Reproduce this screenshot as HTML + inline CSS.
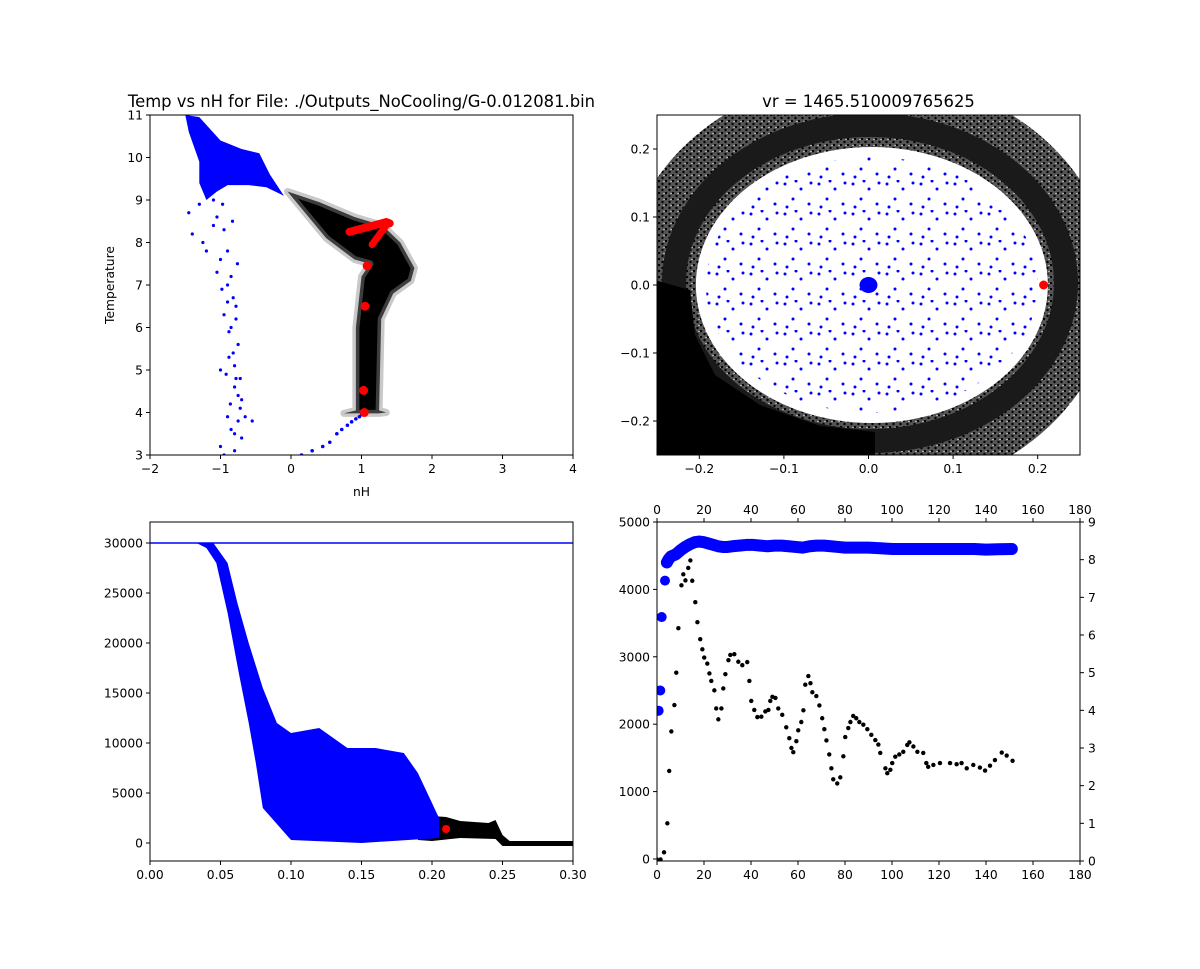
<!DOCTYPE html>
<html><head><meta charset="utf-8"><style>
body{margin:0;background:#fff}
svg{display:block;font-family:"DejaVu Sans","Liberation Sans",sans-serif}
</style></head><body>
<svg id="fig" width="1200" height="969" viewBox="0 0 1200 969" xmlns="http://www.w3.org/2000/svg">
<defs>
<pattern id="bluedots" width="34" height="30" patternUnits="userSpaceOnUse">
<circle cx="3" cy="4" r="1.5" fill="#00f"/><circle cx="19" cy="9" r="1.5" fill="#00f"/><circle cx="11" cy="19" r="1.5" fill="#00f"/><circle cx="27" cy="24" r="1.5" fill="#00f"/><circle cx="29" cy="3" r="1.5" fill="#00f"/><circle cx="5" cy="27" r="1.5" fill="#00f"/><circle cx="14" cy="1" r="1.5" fill="#00f"/></pattern>
<pattern id="blackdots" width="7" height="6" patternUnits="userSpaceOnUse">
<rect width="7" height="6" fill="#555"/><circle cx="1" cy="1" r="1.2" fill="#000"/><circle cx="4.5" cy="4" r="1.2" fill="#000"/><circle cx="6" cy="1.5" r="0.6" fill="#fff"/></pattern>
<clipPath id="c1"><rect x="150" y="115" width="423" height="340"/></clipPath>
<clipPath id="c2"><rect x="657" y="115" width="423" height="340"/></clipPath>
<clipPath id="c3"><rect x="150" y="522" width="423" height="339"/></clipPath>
<clipPath id="c4"><rect x="657" y="522" width="423" height="339"/></clipPath>
</defs>
<g id="g1" clip-path="url(#c1)"></g>
<g id="g2" clip-path="url(#c2)"></g>
<g id="g3" clip-path="url(#c3)"></g>
<g id="g4" clip-path="url(#c4)"></g>
<g id="axes"></g>
</svg>
<script>
// ---------- data ----------
const p1BlueTailX=[-1.45,-1.4,-1.3,-1.25,-1.2,-1.1,-1.05,-1.0,-0.98,-0.95,-0.9,-0.88,-0.85,-0.82,-0.8,-0.8,-0.78,-0.75,-0.72,-0.7,-0.9,-0.85,-0.75,-0.7,-0.65,-1.0,-0.95,-0.8,-0.72,-0.55,-0.88,-0.78,-1.05,-0.95,-0.9,-0.85,-0.82,-0.78,-0.9,-1.0,-0.75,-0.92,-0.86,-0.8,-1.1,-0.97,-0.83,-0.76];
const p1BlueTailY=[8.7,8.2,8.9,8.0,7.8,8.4,7.3,7.6,6.9,6.3,6.6,5.9,6.0,5.4,5.1,4.6,4.8,4.4,4.1,4.3,3.9,3.6,3.8,3.4,3.9,3.2,3.0,3.1,4.8,3.8,5.3,6.2,8.6,8.3,7.8,7.2,6.7,6.5,7.0,5.0,5.6,4.9,4.2,3.5,9.0,8.9,8.5,7.5];
const p1ArcX=[0.0,0.15,0.3,0.45,0.55,0.65,0.72,0.8,0.86,0.92,0.97,1.0];
const p1ArcY=[2.95,3.0,3.1,3.2,3.3,3.5,3.6,3.7,3.78,3.85,3.9,3.95];
const p1RedX=[1.08,1.05,1.03,1.04];
const p1RedY=[7.45,6.5,4.52,4.0];
const p2RedX=[0.207]; const p2RedY=[0.0];
const p3RedX=[0.21]; const p3RedY=[1400];
const p4BlackX=[0,1.5,3,4.4,5.2,6.1,7.4,8.2,9.1,10.4,11.2,12.1,13.3,14.2,15,16.3,17.2,18.4,19.3,20.1,21.4,22.3,23.1,24.4,25.2,26.1,27.4,28.2,29.1,30.4,31.2,32.9,34.6,36.3,38.4,39.3,40.1,41.4,42.7,44.4,46.1,47.4,48.2,49.1,50.4,51.6,53.3,55,56.3,57.2,58,59.3,60.1,61.4,62.3,63.1,64.4,65.3,66.1,67.8,69.1,70.3,71.2,72.1,73.3,74.2,75,76.7,78,79.3,80.1,81.4,82.3,83.5,84.8,86.1,87.8,89.5,91.2,92.9,94.2,95,97.2,98,99.3,100.1,101.4,103.1,104.8,106.5,107.4,109.1,110.8,113.3,114.6,115.4,117.6,120.4,124.7,127.5,129.6,131.8,134.6,137.4,139.6,141.7,143.8,146.7,148.8,151.3];
const p4BlackY=[0.04,0.04,0.23,1.0,2.39,3.44,4.14,5.0,6.18,7.32,7.61,7.45,7.78,7.98,7.44,6.87,6.34,5.89,5.62,5.4,5.24,4.98,4.78,4.53,4.05,3.76,4.05,4.58,4.96,5.33,5.47,5.49,5.29,5.2,5.28,4.78,4.25,4.01,3.82,3.83,3.97,4.01,4.25,4.36,4.33,4.05,3.88,3.55,3.26,3.0,2.89,3.18,3.47,3.69,4.0,4.68,4.91,4.72,4.48,4.38,4.13,3.79,3.5,3.2,2.83,2.46,2.17,2.06,2.22,2.78,3.29,3.53,3.69,3.85,3.79,3.69,3.62,3.5,3.35,3.21,3.09,2.87,2.46,2.33,2.42,2.6,2.77,2.83,2.9,3.08,3.15,3.04,2.9,2.87,2.6,2.5,2.55,2.6,2.6,2.57,2.6,2.46,2.55,2.48,2.4,2.53,2.68,2.88,2.8,2.66];
const p4BlueX=[0.7,1.4,2,3.4,4.2,5,6,8,10,12,14,16,18,20,22,24,26,28,30,32,35,38,41,44,47,50,53,56,59,62,65,68,71,74,77,80,83,86,90,95,100,105,110,115,120,125,130,135,140,145,151];
const p4BlueY=[2200,2500,3590,4130,4400,4450,4490,4520,4580,4630,4670,4700,4710,4700,4680,4660,4640,4630,4630,4640,4650,4660,4660,4650,4640,4650,4650,4640,4630,4620,4640,4650,4650,4640,4630,4620,4620,4620,4620,4610,4600,4600,4600,4600,4600,4600,4600,4600,4590,4595,4600];
const t1X=[-2,-1,0,1,2,3,4], t1Y=[3,4,5,6,7,8,9,10,11];
const t2X=[-0.2,-0.1,0.0,0.1,0.2], t2Y=[-0.2,-0.1,0.0,0.1,0.2];
const t3X=[0.00,0.05,0.10,0.15,0.20,0.25,0.30], t3Y=[0,5000,10000,15000,20000,25000,30000];
const t4X=[0,20,40,60,80,100,120,140,160,180], t4YL=[0,1000,2000,3000,4000,5000], t4YR=[0,1,2,3,4,5,6,7,8,9];

// ---------- helpers ----------
const NS="http://www.w3.org/2000/svg";
function mk(parent,tag,attrs,text){const e=document.createElementNS(NS,tag);for(const k in attrs)e.setAttribute(k,attrs[k]);if(text!==undefined)e.textContent=text;parent.appendChild(e);return e;}
function lin(d0,d1,p0,p1){return v=>p0+(v-d0)*(p1-p0)/(d1-d0);}
const x1=lin(-2,4,150,573), y1=lin(3,11,455,115);
const x2=lin(-0.25,0.25,657,1080), y2=lin(-0.25,0.25,455,115);
const x3=lin(0,0.3,150,573), y3=lin(0,30000,843,543);
const x4=lin(0,180,657,1080), y4L=lin(0,5000,859,522), y4R=lin(0,9,861,522);
const g1=document.getElementById('g1'),g2=document.getElementById('g2'),g3=document.getElementById('g3'),g4=document.getElementById('g4'),ax=document.getElementById('axes');
function poly(g,fx,fy,pts){return pts.map(p=>fx(p[0]).toFixed(1)+','+fy(p[1]).toFixed(1)).join(' ');}

// ---------- panel 1 ----------
let e;
e=mk(g1,'polygon',{points:poly(g1,x1,y1,[[-1.5,11.0],[-1.3,10.95],[-1.0,10.4],[-0.7,10.2],[-0.45,10.1],[-0.3,9.6],[-0.1,9.1],[-0.35,9.3],[-0.6,9.35],[-0.9,9.35],[-1.05,9.2],[-1.2,9.0],[-1.3,9.4],[-1.3,9.9],[-1.45,10.6]]),fill:'#00f'});

e=mk(g1,'polygon',{points:poly(g1,x1,y1,[[-0.05,9.2],[0.4,8.95],[0.9,8.6],[1.3,8.4],[1.55,8.0],[1.75,7.4],[1.7,7.1],[1.45,6.8],[1.28,6.2],[1.25,4.05],[1.35,4.0],[1.25,3.98],[0.75,3.98],[0.92,4.05],[0.92,6.0],[1.0,7.2],[1.12,7.5],[0.9,7.6],[0.5,8.1],[0.2,8.7]]),fill:'#000',stroke:'#888','stroke-width':7,'stroke-opacity':0.45,'stroke-linejoin':'round'});

p1BlueTailX.forEach((v,i)=>{const c=mk(g1,'circle',{cx:x1(v),cy:y1(p1BlueTailY[i]),r:1.6,fill:'#00f'});
});
p1ArcX.forEach((v,i)=>{const c=mk(g1,'circle',{cx:x1(v),cy:y1(p1ArcY[i]),r:1.8,fill:'#00f'});
});
e=mk(g1,'polyline',{points:poly(g1,x1,y1,[[0.83,8.25],[1.35,8.48],[1.4,8.45]]),fill:'none',stroke:'#f00','stroke-width':8,'stroke-linecap':'round'});

e=mk(g1,'polyline',{points:poly(g1,x1,y1,[[1.15,7.95],[1.35,8.4]]),fill:'none',stroke:'#f00','stroke-width':7,'stroke-linecap':'round'});

p1RedX.forEach((v,i)=>{const c=mk(g1,'circle',{cx:x1(v),cy:y1(p1RedY[i]),r:4.5,fill:'#f00'});
});

// ---------- panel 2 ----------
e=mk(g2,'ellipse',{cx:868,cy:285,rx:245,ry:210,fill:'url(#blackdots)'});

e=mk(g2,'ellipse',{cx:870,cy:283,rx:196,ry:158,fill:'none',stroke:'#1a1a1a','stroke-width':24});

e=mk(g2,'polygon',{points:'655,280 655,457 875,457 875,432 820,426 760,405 715,375 695,335 690,290',fill:'#000'});

e=mk(g2,'ellipse',{cx:x2(0.004),cy:y2(0.0),rx:176,ry:138,fill:'#fff'});

e=mk(g2,'ellipse',{cx:x2(0.004),cy:y2(0.0),rx:166,ry:128,fill:'url(#bluedots)'});

e=mk(g2,'ellipse',{cx:x2(0.0),cy:y2(0.0),rx:9,ry:8,fill:'#00f'});

p2RedX.forEach((v,i)=>{const c=mk(g2,'circle',{cx:x2(v),cy:y2(p2RedY[i]),r:4.5,fill:'#f00'});
});

// ---------- panel 3 ----------
e=mk(g3,'polygon',{points:poly(g3,x3,y3,[[0.19,2800],[0.21,2600],[0.22,2200],[0.24,2000],[0.245,2300],[0.25,800],[0.255,200],[0.3,200],[0.3,-300],[0.25,-300],[0.245,400],[0.22,500],[0.2,200],[0.19,300]]),fill:'#000'});

e=mk(g3,'polygon',{points:poly(g3,x3,y3,[[0.033,30000],[0.045,30000],[0.055,28000],[0.062,24000],[0.07,20000],[0.08,15500],[0.09,12000],[0.1,11000],[0.12,11500],[0.14,9500],[0.16,9500],[0.18,9000],[0.19,7000],[0.2,4000],[0.205,2500],[0.205,500],[0.15,0],[0.1,300],[0.08,3500],[0.075,8000],[0.07,12000],[0.063,17000],[0.055,23000],[0.047,28000],[0.04,29500]]),fill:'#00f'});

e=mk(g3,'line',{x1:150,x2:573,y1:y3(30000),y2:y3(30000),stroke:'#00f','stroke-width':1.5});

p3RedX.forEach((v,i)=>{const c=mk(g3,'circle',{cx:x3(v),cy:y3(p3RedY[i]),r:4,fill:'#f00'});
});

// ---------- panel 4 ----------
e=mk(g4,'polyline',{points:p4BlueX.slice(4).map((v,i)=>x4(v)+','+y4L(p4BlueY[i+4])).join(' '),fill:'none',stroke:'#00f','stroke-width':12,'stroke-linejoin':'round','stroke-linecap':'round'});

p4BlueX.forEach((v,i)=>{const c=mk(g4,'circle',{cx:x4(v),cy:y4L(p4BlueY[i]),r:5,fill:'#00f'});
});
p4BlackX.forEach((v,i)=>{const c=mk(g4,'circle',{cx:x4(v),cy:y4R(p4BlackY[i]),r:2.2,fill:'#000'});
});

// ---------- axes ----------
function frame(x,y,w,h,name){const r=mk(ax,'rect',{x:x,y:y,width:w,height:h,fill:'none',stroke:'#000','stroke-width':1});
}
function xticks(vals,fx,y0,fmt,top,name){vals.forEach(v=>{const X=fx(v);
const l=mk(ax,'line',{x1:X,x2:X,y1:y0,y2:top?y0-4:y0+4,stroke:'#000'});
const t=mk(ax,'text',{x:X,y:top?y0-8:y0+18,'text-anchor':'middle','font-size':12.3},fmt(v));});}
function yticks(vals,fy,x0,fmt,right,name){vals.forEach(v=>{const Y=fy(v);
const l=mk(ax,'line',{x1:x0,x2:right?x0+4:x0-4,y1:Y,y2:Y,stroke:'#000'});
const t=mk(ax,'text',{x:right?x0+8:x0-7,y:Y+4.5,'text-anchor':right?'start':'end','font-size':12.3},fmt(v));});}
frame(150,115,423,340,'temp-vs-nh-axes');
xticks(t1X,x1,455,v=>String(v).replace('-','\u2212'),false,'p1-x');
yticks(t1Y,y1,150,v=>String(v),false,'p1-y');
frame(657,115,423,340,'vr-axes');
xticks(t2X,x2,455,v=>v.toFixed(1).replace('-','\u2212'),false,'p2-x');
yticks(t2Y,y2,657,v=>v.toFixed(1).replace('-','\u2212'),false,'p2-y');
frame(150,522,423,339,'profile-axes');
xticks(t3X,x3,861,v=>v.toFixed(2),false,'p3-x');
yticks(t3Y,y3,150,v=>String(v),false,'p3-y');
frame(657,522,423,339,'time-series-axes');
xticks(t4X,x4,861,v=>String(v),false,'p4-x-bottom');
xticks(t4X,x4,522,v=>String(v),true,'p4-x-top');
yticks(t4YL,y4L,657,v=>String(v),false,'p4-y-left');
yticks(t4YR,y4R,1080,v=>String(v),true,'p4-y-right');
e=mk(ax,'text',{x:361.5,y:107,'text-anchor':'middle','font-size':16.4},'Temp vs nH for File: ./Outputs_NoCooling/G-0.012081.bin');

e=mk(ax,'text',{x:868.5,y:107,'text-anchor':'middle','font-size':16.4},'vr = 1465.510009765625');

e=mk(ax,'text',{x:361.5,y:496,'text-anchor':'middle','font-size':12.3},'nH');

e=mk(ax,'text',{x:114,y:285,'text-anchor':'middle','font-size':12.3,transform:'rotate(-90 114 285)'},'Temperature');

</script>
</body></html>
